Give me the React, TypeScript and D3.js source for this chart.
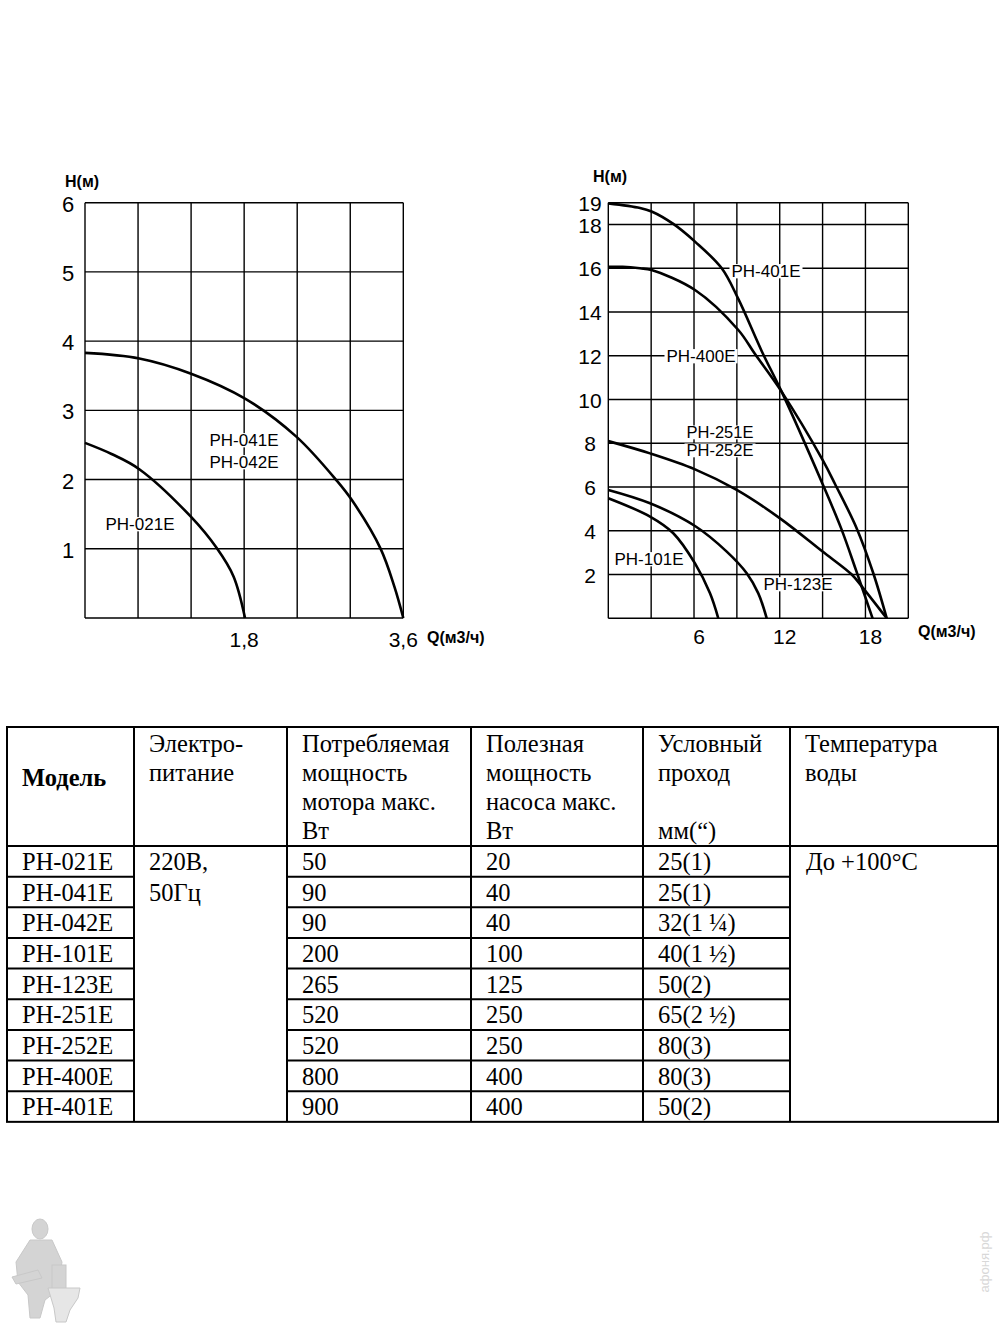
import React from 'react';
import { scaleLinear, line, curveCatmullRom, range } from 'd3';

// ---- left chart data (Q m3/h, H m)
const leftYTicks = [1, 2, 3, 4, 5, 6];
const leftXTicks = [1.8, 3.6];
const leftXTickLabels = ['1,8', '3,6'];
const q041 = [0, 0.614, 1.2, 1.81, 2.39, 2.85, 3.02, 3.34, 3.5, 3.6];
const h041 = [3.83, 3.75, 3.53, 3.17, 2.62, 1.98, 1.7, 1.01, 0.45, 0];
const q021 = [0, 0.3, 0.614, 1.2, 1.49, 1.68, 1.81];
const h021 = [2.53, 2.37, 2.15, 1.46, 1.01, 0.6, 0];

// ---- right chart data
const rightYTicks = [2, 4, 6, 8, 10, 12, 14, 16, 18, 19];
const rightXTicks = [6, 12, 18];
const q401 = [0, 2.22, 3.03, 4.55, 6.07, 7.94, 9.1, 10.75, 12.14, 15.0, 16.3, 17.34, 18.5];
const h401 = [18.97, 18.76, 18.6, 18.03, 17.22, 16.0, 14.6, 12.2, 10.35, 6.14, 4.11, 2.2, 0];
const q400 = [0, 1.0, 2.22, 3.03, 6.07, 9.1, 10.27, 12.14, 15.0, 15.87, 17.39, 18.55, 19.49];
const h400 = [16.07, 16.07, 16.0, 15.92, 15.01, 13.18, 12.08, 10.35, 7.24, 6.14, 4.11, 2.06, 0];
const q251 = [0, 2.92, 6.07, 8.99, 12.02, 15.0, 17.04, 17.85, 19.49];
const h251 = [8.1, 7.54, 6.81, 5.87, 4.57, 3.05, 2.0, 1.37, 0];
const q123 = [0, 2.92, 6.07, 8.29, 9.69, 10.5, 11.09];
const h123 = [5.87, 5.26, 4.22, 3.05, 2.06, 1.14, 0];
const q101 = [0, 2.92, 4.55, 6.07, 7.12, 7.7];
const h101 = [5.49, 4.65, 3.89, 2.51, 1.14, 0];

// ---- table data
const models = ['PH-021E', 'PH-041E', 'PH-042E', 'PH-101E', 'PH-123E', 'PH-251E', 'PH-252E', 'PH-400E', 'PH-401E'];
const motorPower = ['50', '90', '90', '200', '265', '520', '520', '800', '900'];
const pumpPower = ['20', '40', '40', '100', '125', '250', '250', '400', '400'];
const passage = ['25(1)', '25(1)', '32(1 ¼)', '40(1 ½)', '50(2)', '65(2 ½)', '80(3)', '80(3)', '50(2)'];
const supply = ['220В,', '50Гц'];
const temperature = ['До +100°С'];
const headers = [
  ['Модель'],
  ['Электро-', 'питание'],
  ['Потребляемая', 'мощность', 'мотора макс.', 'Вт'],
  ['Полезная', 'мощность', 'насоса макс.', 'Вт'],
  ['Условный', 'проход', '', 'мм(“)'],
  ['Температура', 'воды'],
];

const sans = '"Liberation Sans", Arial, sans-serif';
const serif = '"Liberation Serif", "Times New Roman", serif';

const pts = (q: number[], h: number[]) => q.map((v, i) => [v, h[i]] as [number, number]);

const Label = ({ x, y, text, fs = 17 }: { x: number; y: number; text: string; fs?: number }) => {
  const w = text.length * fs * 0.58;
  return (
    <g>
      <rect x={x - w / 2 - 2} y={y - fs * 0.76} width={w + 4} height={fs * 0.84} fill="#fff" />
      <text x={x} y={y} textAnchor="middle" fontSize={fs} fontFamily={sans}>{text}</text>
    </g>
  );
};

const App: React.FC = () => {
  // left chart scales
  const lx = scaleLinear().domain([0, 3.6]).range([85, 403.3]);
  const ly = scaleLinear().domain([0, 6]).range([618, 202.7]);
  const lLine = line<[number, number]>().x(d => lx(d[0])).y(d => ly(d[1])).curve(curveCatmullRom.alpha(0.5));

  // right chart scales
  const rx = scaleLinear().domain([0, 21]).range([608.3, 908.3]);
  const ry = scaleLinear().domain([0, 19]).range([618.3, 202.7]);
  const rLine = line<[number, number]>().x(d => rx(d[0])).y(d => ry(d[1])).curve(curveCatmullRom.alpha(0.5));

  const colX = [7, 134, 287, 471, 643, 790, 998];
  const tTop = 727;
  const tHead = 846;
  const rowH = 30.65;
  const rowY = scaleLinear().domain([0, models.length]).range([tHead, tHead + rowH * models.length]);
  const headBase = [752, 781, 810, 839];

  return (
    <svg width={1000} height={1333} style={{ position: 'absolute', left: 0, top: 0, background: '#fff' }}>
      {/* ---------- left chart ---------- */}
      <g stroke="#000" strokeWidth={1.4}>
        {range(0, 3.61, 0.6).map(v => (
          <line key={'lv' + v} x1={lx(v)} x2={lx(v)} y1={ly(0)} y2={ly(6)} />
        ))}
        {range(0, 7).map(v => (
          <line key={'lh' + v} x1={lx(0)} x2={lx(3.6)} y1={ly(v)} y2={ly(v)} />
        ))}
      </g>
      <Label x={244} y={446} text="PH-041E" />
      <Label x={244} y={468} text="PH-042E" />
      <Label x={140} y={530} text="PH-021E" />
      <g fill="none" stroke="#000" strokeWidth={2.6}>
        <path d={lLine(pts(q041, h041)) || ''} />
        <path d={lLine(pts(q021, h021)) || ''} />
      </g>
      <g fontFamily={sans} fontSize={22}>
        {leftYTicks.map(v => (
          <text key={'lyt' + v} x={68} y={ly(v) + 9} textAnchor="middle">{v}</text>
        ))}
        {leftXTicks.map((v, i) => (
          <text key={'lxt' + v} x={lx(v)} y={647} textAnchor="middle" fontSize={21}>{leftXTickLabels[i]}</text>
        ))}
      </g>
      <text x={65} y={187} fontFamily={sans} fontSize={16} fontWeight="bold">H(м)</text>
      <text x={427} y={643} fontFamily={sans} fontSize={16} fontWeight="bold">Q(м3/ч)</text>

      {/* ---------- right chart ---------- */}
      <g stroke="#000" strokeWidth={1.4}>
        {range(0, 21.1, 3).map(v => (
          <line key={'rv' + v} x1={rx(v)} x2={rx(v)} y1={ry(0)} y2={ry(19)} />
        ))}
        {[0, ...rightYTicks].map(v => (
          <line key={'rh' + v} x1={rx(0)} x2={rx(21)} y1={ry(v)} y2={ry(v)} />
        ))}
      </g>
      <Label x={766} y={277} text="PH-401E" />
      <Label x={701} y={362} text="PH-400E" />
      <Label x={720} y={438} text="PH-251E" fs={16.5} />
      <Label x={720} y={456} text="PH-252E" fs={16.5} />
      <Label x={649} y={565} text="PH-101E" />
      <Label x={798} y={590} text="PH-123E" />
      <g fill="none" stroke="#000" strokeWidth={2.6}>
        <path d={rLine(pts(q401, h401)) || ''} />
        <path d={rLine(pts(q400, h400)) || ''} />
        <path d={rLine(pts(q251, h251)) || ''} />
        <path d={rLine(pts(q123, h123)) || ''} />
        <path d={rLine(pts(q101, h101)) || ''} />
      </g>
      <g fontFamily={sans} fontSize={21}>
        {rightYTicks.map(v => (
          <text key={'ryt' + v} x={590} y={ry(v) + 8} textAnchor="middle">{v}</text>
        ))}
        {rightXTicks.map(v => (
          <text key={'rxt' + v} x={rx(v) + 5} y={644} textAnchor="middle">{v}</text>
        ))}
      </g>
      <text x={593} y={182} fontFamily={sans} fontSize={16} fontWeight="bold">H(м)</text>
      <text x={918} y={637} fontFamily={sans} fontSize={16} fontWeight="bold">Q(м3/ч)</text>

      {/* ---------- table ---------- */}
      <g stroke="#000" strokeWidth={2}>
        <rect x={colX[0]} y={tTop} width={colX[6] - colX[0]} height={rowY(models.length) - tTop} fill="none" />
        {colX.slice(1, 6).map(x => (
          <line key={'cx' + x} x1={x} x2={x} y1={tTop} y2={rowY(models.length)} />
        ))}
        <line x1={colX[0]} x2={colX[6]} y1={tHead} y2={tHead} />
        {range(1, models.length).map(i => (
          <g key={'rl' + i}>
            <line x1={colX[0]} x2={colX[1]} y1={rowY(i)} y2={rowY(i)} />
            <line x1={colX[2]} x2={colX[5]} y1={rowY(i)} y2={rowY(i)} />
          </g>
        ))}
      </g>
      <g fontFamily={serif} fontSize={24.5}>
        <text x={22} y={786} fontWeight="bold">{headers[0][0]}</text>
        {headers.slice(1).map((lines, c) =>
          lines.map((t, li) => (
            <text key={'h' + c + li} x={colX[c + 1] + 15} y={headBase[li]}>{t}</text>
          ))
        )}
        {models.map((m, i) => (
          <g key={'r' + m + i}>
            <text x={22} y={rowY(i) + 24}>{m}</text>
            <text x={colX[2] + 15} y={rowY(i) + 24}>{motorPower[i]}</text>
            <text x={colX[3] + 15} y={rowY(i) + 24}>{pumpPower[i]}</text>
            <text x={colX[4] + 15} y={rowY(i) + 24}>{passage[i]}</text>
          </g>
        ))}
        {supply.map((s, i) => (
          <text key={'s' + i} x={colX[1] + 15} y={rowY(i) + 24}>{s}</text>
        ))}
        <text x={colX[5] + 16} y={rowY(0) + 24}>{temperature[0]}</text>
      </g>

      {/* ---------- mascot & watermark ---------- */}
      <g fill="#d4d4d4" stroke="#c8c8c8" strokeWidth={1}>
        <ellipse cx={40} cy={1229} rx={8} ry={10} />
        <path d="M30,1240 L52,1240 L62,1262 L58,1290 L45,1300 L40,1318 L30,1318 L28,1295 L18,1282 L16,1262 Z" />
        <path d="M12,1277 L38,1270 L42,1278 L16,1284 Z" />
        <rect x={52} y={1265} width={14} height={25} />
        <path d="M48,1288 L80,1288 L78,1298 L70,1310 L66,1322 L56,1322 L54,1308 Z" fill="#e6e6e6" />
      </g>
      <text
        transform="translate(989,1262) rotate(-90)"
        textAnchor="middle"
        fontFamily={sans}
        fontSize={13}
        fill="#d8d8d8"
      >
        афоня.рф
      </text>
    </svg>
  );
};

export default App;
